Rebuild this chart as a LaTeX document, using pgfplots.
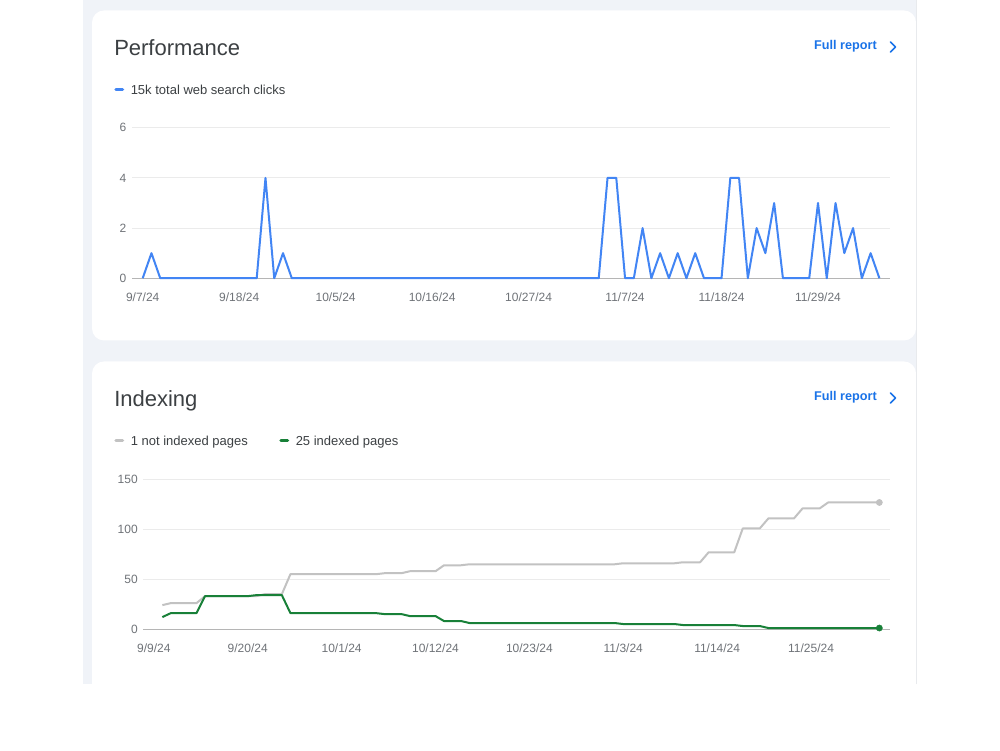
\documentclass[border=0pt]{standalone}
\usepackage{pgfplots}
\pgfplotsset{compat=1.18}
\usepackage{fontspec}
\setmainfont{Liberation Sans}
\definecolor{panel}{HTML}{F0F3F8}
\definecolor{gblue}{HTML}{4285F4}
\definecolor{ggray}{HTML}{C2C2C2}
\definecolor{ggreen}{HTML}{188038}
\definecolor{titlec}{HTML}{3C4043}
\definecolor{tickc}{HTML}{6F7378}
\definecolor{linkc}{HTML}{1A73E8}
\definecolor{gridc}{HTML}{EBEBEB}
\definecolor{basec}{HTML}{B5B5B5}
\definecolor{edgec}{HTML}{E8EAED}
\pgfplotsset{gsc/.style={
  scale only axis,
  anchor=south west,
  axis line style={draw=none},
  major tick length=0pt,
  tick style={draw=none},
  ymajorgrids,
  grid style={gridc, line width=0.75pt},
  tick label style={font=\fontsize{9}{10}\selectfont, text=tickc, inner sep=0pt},
  /pgf/number format/assume math mode=true,
  xticklabel style={anchor=base, yshift=-17.5pt},
  yticklabel style={anchor=east, xshift=-4pt},
  extra y tick style={grid style={basec, line width=0.75pt}},
  xtick={0,11,22,33,44,55,66,77},
  clip=false,
}}
\begin{document}
\begin{tikzpicture}[x=0.75pt,y=0.75pt]
% background
\fill[white] (0,0) rectangle (1000,750);
\fill[panel] (83,66) rectangle (917,750);
\fill[white, rounded corners=9pt] (92,410) rectangle (916,740);
\fill[white, rounded corners=9pt] (92,20) rectangle (916,389);
\fill[white] (0,0) rectangle (1000,66);
\draw[edgec, line width=0.75pt] (916.8,66) -- (916.8,750);

% ---------- Performance card ----------
\node[anchor=base west, inner sep=0pt, font=\fontsize{16.5}{18}\selectfont, text=titlec] at (114,695) {Performance};
\node[anchor=base east, inner sep=0pt, font=\bfseries\fontsize{9.5}{11}\selectfont, text=linkc] at (877,700.5) {Full report};
\draw[linkc, line width=1.2pt, line cap=round, line join=round] (890.5,708.5) -- (895.5,703.5) -- (890.5,698.5);
\draw[gblue, line width=2.5pt, line cap=round] (116,661) -- (122.6,661);
\node[anchor=base west, inner sep=0pt, font=\fontsize{9.75}{11}\selectfont, text=titlec] at (130.5,656) {15k total web search clicks};

\begin{axis}[gsc, at={(99pt,354.2pt)}, width=568.5pt, height=112.8pt,
  xmin=-1.22, xmax=85.21, ymin=0, ymax=6,
  ytick={2,4,6}, extra y ticks={0},
  xticklabels={9/7/24,9/18/24,10/5/24,10/16/24,10/27/24,11/7/24,11/18/24,11/29/24}]
\addplot[gblue, line width=1.5pt, line join=round] coordinates {
(0,0)(1,1)(2,0)(3,0)(4,0)(5,0)(6,0)(7,0)(8,0)(9,0)(10,0)(11,0)(12,0)(13,0)(14,4)(15,0)(16,1)(17,0)
(18,0)(19,0)(20,0)(21,0)(22,0)(23,0)(24,0)(25,0)(26,0)(27,0)(28,0)(29,0)(30,0)(31,0)(32,0)(33,0)(34,0)
(35,0)(36,0)(37,0)(38,0)(39,0)(40,0)(41,0)(42,0)(43,0)(44,0)(45,0)(46,0)(47,0)(48,0)(49,0)(50,0)(51,0)
(52,0)(53,4)(54,4)(55,0)(56,0)(57,2)(58,0)(59,1)(60,0)(61,1)(62,0)(63,1)(64,0)(65,0)(66,0)(67,4)(68,4)
(69,0)(70,2)(71,1)(72,3)(73,0)(74,0)(75,0)(76,0)(77,3)(78,0)(79,3)(80,1)(81,2)(82,0)(83,1)(84,0)};
\end{axis}

% ---------- Indexing card ----------
\node[anchor=base west, inner sep=0pt, font=\fontsize{16.5}{18}\selectfont, text=titlec] at (114,344) {Indexing};
\node[anchor=base east, inner sep=0pt, font=\bfseries\fontsize{9.5}{11}\selectfont, text=linkc] at (877,349.5) {Full report};
\draw[linkc, line width=1.2pt, line cap=round, line join=round] (890.5,357.5) -- (895.5,352.5) -- (890.5,347.5);
\draw[ggray, line width=2.5pt, line cap=round] (116,310) -- (122.6,310);
\node[anchor=base west, inner sep=0pt, font=\fontsize{9.75}{11}\selectfont, text=titlec] at (130.5,305) {1 not indexed pages};
\draw[ggreen, line width=2.5pt, line cap=round] (281,310) -- (287.6,310);
\node[anchor=base west, inner sep=0pt, font=\fontsize{9.75}{11}\selectfont, text=titlec] at (295.5,305) {25 indexed pages};

\begin{axis}[gsc, at={(107.5pt,91.1pt)}, width=560pt, height=112.1pt,
  xmin=-1.23, xmax=86.25, ymin=0, ymax=150,
  ytick={50,100,150}, extra y ticks={0},
  xticklabels={9/9/24,9/20/24,10/1/24,10/12/24,10/23/24,11/3/24,11/14/24,11/25/24}]
\addplot[ggray, line width=1.5pt, line join=round] coordinates {
(1,24)(2,26)(3,26)(4,26)(5,26)(6,33)(7,33)(8,33)(9,33)(10,33)(11,33)(12,33)(13,35)(14,35)(15,35)
(16,55)(17,55)(18,55)(19,55)(20,55)(21,55)(22,55)(23,55)(24,55)(25,55)(26,55)(27,56)(28,56)(29,56)
(30,58)(31,58)(32,58)(33,58)(34,64)(35,64)(36,64)(37,65)(38,65)(39,65)(40,65)(41,65)(42,65)(43,65)
(44,65)(45,65)(46,65)(47,65)(48,65)(49,65)(50,65)(51,65)(52,65)(53,65)(54,65)(55,66)(56,66)(57,66)
(58,66)(59,66)(60,66)(61,66)(62,67)(63,67)(64,67)(65,77)(66,77)(67,77)(68,77)(69,101)(70,101)(71,101)
(72,111)(73,111)(74,111)(75,111)(76,121)(77,121)(78,121)(79,127)(80,127)(81,127)(82,127)(83,127)(84,127)(85,127)};
\addplot[ggreen, line width=1.5pt, line join=round] coordinates {
(1,12)(2,16)(3,16)(4,16)(5,16)(6,33)(7,33)(8,33)(9,33)(10,33)(11,33)(12,34)(13,34)(14,34)(15,34)
(16,16)(17,16)(18,16)(19,16)(20,16)(21,16)(22,16)(23,16)(24,16)(25,16)(26,16)(27,15)(28,15)(29,15)
(30,13)(31,13)(32,13)(33,13)(34,8)(35,8)(36,8)(37,6)(38,6)(39,6)(40,6)(41,6)(42,6)(43,6)
(44,6)(45,6)(46,6)(47,6)(48,6)(49,6)(50,6)(51,6)(52,6)(53,6)(54,6)(55,5)(56,5)(57,5)
(58,5)(59,5)(60,5)(61,5)(62,4)(63,4)(64,4)(65,4)(66,4)(67,4)(68,4)(69,3)(70,3)(71,3)
(72,1)(73,1)(74,1)(75,1)(76,1)(77,1)(78,1)(79,1)(80,1)(81,1)(82,1)(83,1)(84,1)(85,1)};
\addplot[only marks, mark=*, mark size=2.3pt, ggray] coordinates {(85,127)};
\addplot[only marks, mark=*, mark size=2.3pt, ggreen] coordinates {(85,1)};
\end{axis}
\end{tikzpicture}
\end{document}
